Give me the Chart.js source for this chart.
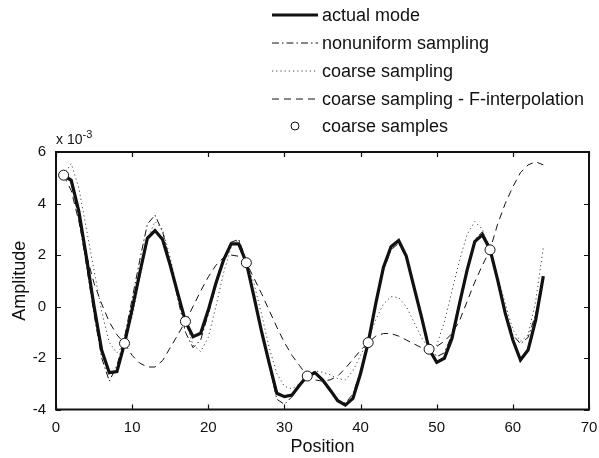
<!DOCTYPE html>
<html><head><meta charset="utf-8">
<script src="https://cdn.jsdelivr.net/npm/chart.js@4/dist/chart.umd.min.js"></script>
<style>
html,body{margin:0;padding:0;background:#fff;}
#wrap{position:relative;width:599px;height:458px;overflow:hidden;}
#c{position:absolute;left:0;top:0;}
.lt{position:absolute;font-family:"Liberation Sans",Arial,sans-serif;font-size:18px;color:#111;line-height:20px;white-space:nowrap;}
svg{position:absolute;left:0;top:0;}
</style>
</head><body>
<div id="wrap">
<canvas id="c" width="599" height="458"></canvas>
<svg width="599" height="140" id="legsvg"></svg>
<div id="leg"></div>
<div class="lt" style="left:56px;top:131px;font-size:14px;line-height:16px;">x 10<span style="font-size:11px;position:relative;top:-6px;">-3</span></div>
</div>
<script>
// Data (values in units of 1e-3)
const positions = [1,2,3,4,5,6,7,8,9,10,11,12,13,14,15,16,17,18,19,20,21,22,23,24,25,26,27,28,29,30,31,32,33,34,35,36,37,38,39,40,41,42,43,44,45,46,47,48,49,50,51,52,53,54,55,56,57,58,59,60,61,62,63,64];
const actualMode = [5.1,4.9,3.7,1.9,0.0,-1.7,-2.57,-2.53,-1.43,-0.1,1.3,2.65,2.95,2.6,1.6,0.5,-0.58,-1.17,-1.04,-0.14,0.9,1.8,2.43,2.43,1.7,0.38,-0.98,-2.2,-3.37,-3.5,-3.44,-3.05,-2.7,-2.57,-2.85,-3.24,-3.66,-3.83,-3.57,-2.6,-1.4,0.12,1.52,2.32,2.56,1.96,0.77,-0.4,-1.66,-2.17,-2.01,-1.24,0.12,1.42,2.52,2.78,2.22,1.03,-0.26,-1.3,-2.08,-1.69,-0.52,1.18];
const nonuniform = [5.1,4.8,3.4,1.6,-0.3,-2.0,-2.9,-2.3,-1.2,0.3,1.8,3.2,3.55,2.9,1.7,0.3,-1.0,-1.6,-1.3,-0.3,0.8,1.8,2.5,2.6,1.8,0.4,-1.0,-2.3,-3.6,-3.8,-3.5,-3.0,-2.6,-2.6,-2.9,-3.3,-3.65,-3.75,-3.4,-2.5,-1.3,0.1,1.4,2.2,2.45,1.9,0.8,-0.4,-1.5,-1.95,-1.8,-1.1,0.2,1.5,2.6,2.9,2.3,1.0,-0.2,-1.1,-1.45,-1.2,-0.3,1.2];
const coarse = [5.1,5.55,4.6,3.0,1.4,-0.2,-1.4,-1.8,-1.43,-0.4,1.1,2.6,3.3,3.0,1.9,0.6,-0.58,-1.5,-1.75,-1.2,0.0,1.3,2.3,2.6,1.7,0.9,-0.3,-1.6,-2.6,-3.1,-3.2,-3.0,-2.7,-2.5,-2.55,-2.65,-2.8,-2.85,-2.5,-1.9,-1.3,-0.5,0.1,0.38,0.35,0.0,-0.6,-1.2,-1.66,-1.5,-0.6,0.6,1.8,2.8,3.3,3.0,2.2,1.2,0.1,-0.9,-1.35,-1.1,0.2,2.3];
const fInterp = [5.1,4.5,3.3,2.0,0.9,0.1,-0.6,-1.1,-1.43,-1.9,-2.2,-2.35,-2.35,-2.1,-1.6,-1.1,-0.58,0.0,0.6,1.15,1.6,1.9,2.0,1.95,1.7,1.1,0.5,-0.15,-0.8,-1.4,-1.9,-2.3,-2.7,-2.85,-2.9,-2.85,-2.7,-2.4,-2.05,-1.7,-1.4,-1.15,-1.05,-1.05,-1.15,-1.3,-1.45,-1.6,-1.66,-1.55,-1.35,-1.05,-0.55,0.2,0.95,1.6,2.2,3.2,4.0,4.65,5.2,5.5,5.62,5.5];
const samplePositions = [1,9,17,25,33,41,49,57];
const sampleValues = [5.1,-1.43,-0.58,1.7,-2.7,-1.4,-1.66,2.2];
const legendLabels = ["actual mode","nonuniform sampling","coarse sampling","coarse sampling - F-interpolation","coarse samples"];
const xTicks = [0,10,20,30,40,50,60,70];
const yTicks = [-4,-2,0,2,4,6];

const pts = (xs, ys) => xs.map((x,i)=>({x:x, y:ys[i]}));

const FONT = '"Liberation Sans", Arial, sans-serif';

const framePlugin = {
  id:'frame',
  afterDraw(chart){
    const ctx = chart.ctx, a = chart.chartArea;
    const xs = chart.scales.x, ys = chart.scales.y;
    ctx.save();
    ctx.strokeStyle = '#111';
    ctx.lineWidth = 2;
    ctx.setLineDash([]);
    ctx.strokeRect(a.left, a.top, a.right-a.left, a.bottom-a.top);
    ctx.lineWidth = 1.2;
    const L = 5;
    ctx.beginPath();
    xTicks.forEach(v=>{
      const px = Math.round(xs.getPixelForValue(v))+0.5;
      ctx.moveTo(px, a.bottom); ctx.lineTo(px, a.bottom-L);
      ctx.moveTo(px, a.top); ctx.lineTo(px, a.top+L);
    });
    yTicks.forEach(v=>{
      const py = Math.round(ys.getPixelForValue(v))+0.5;
      ctx.moveTo(a.left, py); ctx.lineTo(a.left+L, py);
      ctx.moveTo(a.right, py); ctx.lineTo(a.right-L, py);
    });
    ctx.stroke();
    ctx.restore();
  }
};

new Chart(document.getElementById('c'), {
  type:'line',
  data:{
    datasets:[
      {label:legendLabels[4], data:pts(samplePositions, sampleValues), showLine:false, pointRadius:5, pointBackgroundColor:'#fff', pointBorderColor:'#111', pointBorderWidth:1, order:0},
      {label:legendLabels[0], data:pts(positions, actualMode), borderColor:'#111', borderWidth:3.2, pointRadius:0, order:1},
      {label:legendLabels[1], data:pts(positions, nonuniform), borderColor:'#111', borderWidth:1, borderDash:[7,3,1.5,3], pointRadius:0, order:2},
      {label:legendLabels[2], data:pts(positions, coarse), borderColor:'#444', borderWidth:1, borderDash:[1.2,3], pointRadius:0, order:3},
      {label:legendLabels[3], data:pts(positions, fInterp), borderColor:'#111', borderWidth:1, borderDash:[7,5], pointRadius:0, order:4}
    ]
  },
  options:{
    responsive:false, animation:false,
    layout:{padding:{top:152,right:10,left:0,bottom:0}},
    plugins:{legend:{display:false}, tooltip:{enabled:false}},
    elements:{line:{tension:0}},
    scales:{
      x:{type:'linear', min:0, max:70,
        afterBuildTicks(s){ s.ticks = xTicks.map(v=>({value:v})); },
        afterFit(s){ s.height = 48.5; },
        grid:{display:false}, border:{display:false},
        ticks:{font:{family:FONT,size:15}, color:'#111', padding:1, maxRotation:0},
        title:{display:true, text:'Position', font:{family:FONT,size:18}, color:'#111', padding:{top:0,bottom:0}}
      },
      y:{type:'linear', min:-4, max:6,
        afterBuildTicks(s){ s.ticks = yTicks.map(v=>({value:v})); },
        afterFit(s){ s.width = 56; },
        grid:{display:false}, border:{display:false},
        ticks:{font:{family:FONT,size:15}, color:'#111', padding:2},
        title:{display:true, text:'Amplitude', font:{family:FONT,size:18}, color:'#111', padding:{top:9,bottom:0}}
      }
    }
  },
  plugins:[framePlugin]
});

// HTML legend
const legY = [15,43,71,99,126];
const svg = document.getElementById('legsvg');
const NS = 'http://www.w3.org/2000/svg';
const styles = [
  {w:3, dash:null},
  {w:1, dash:'7 3 1.5 3'},
  {w:1, dash:'1.2 3'},
  {w:1, dash:'7 5'}
];
styles.forEach((s,i)=>{
  const l = document.createElementNS(NS,'line');
  l.setAttribute('x1',272); l.setAttribute('x2',318);
  l.setAttribute('y1',legY[i]); l.setAttribute('y2',legY[i]);
  l.setAttribute('stroke', i===2?'#444':'#111'); l.setAttribute('stroke-width', s.w);
  if(s.dash) l.setAttribute('stroke-dasharray', s.dash);
  svg.appendChild(l);
});
const circ = document.createElementNS(NS,'circle');
circ.setAttribute('cx',295); circ.setAttribute('cy',legY[4]); circ.setAttribute('r',4);
circ.setAttribute('fill','#fff'); circ.setAttribute('stroke','#111'); circ.setAttribute('stroke-width',1);
svg.appendChild(circ);
const leg = document.getElementById('leg');
legendLabels.forEach((t,i)=>{
  const d = document.createElement('div');
  d.className='lt'; d.textContent=t;
  d.style.left='322px'; d.style.top=(legY[i]-10)+'px';
  leg.appendChild(d);
});
</script>
</body></html>
